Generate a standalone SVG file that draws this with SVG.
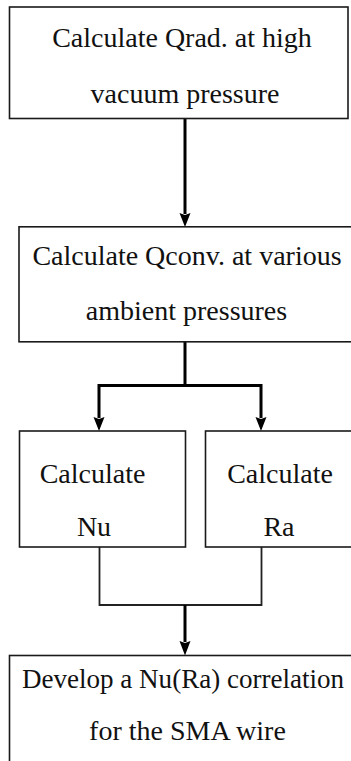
<svg xmlns="http://www.w3.org/2000/svg" width="351" height="761" viewBox="0 0 351 761">
<style>
.box{fill:#fff;stroke:#1a1a1a;stroke-width:1.6}
.t{font-family:'Liberation Serif','Times New Roman','DejaVu Serif',serif;font-size:28px;fill:#111;text-anchor:middle}
.thick{fill:none;stroke:#000;stroke-width:3}
.thin{fill:none;stroke:#222;stroke-width:1.8}
</style>
<rect width="351" height="761" fill="#fff"/>
<g id="connectors">
<path class="thick" d="M185,119 V214"/>
<polygon points="179.5,213 185,215 190.5,213 185,227" fill="#000"/>
<path class="thick" d="M185,342 V385.5 M99,385.5 H261 M99,384 V418 M261,384 V418"/>
<polygon points="93.5,417 99,419 104.5,417 99,431" fill="#000"/>
<polygon points="255.5,417 261,419 266.5,417 261,431" fill="#000"/>
<path class="thin" d="M99.5,547 V605 H261.5 V547"/>
<path class="thick" d="M185,605 V642"/>
<polygon points="179.5,641 185,643 190.5,641 185,655.5" fill="#000"/>
</g>
<g id="n1">
<rect class="box" x="9.5" y="7" width="338.5" height="111.5"/>
<text class="t" x="182" y="47">Calculate Qrad. at high</text>
<text class="t" x="185" y="103">vacuum pressure</text>
</g>
<g id="n2">
<rect class="box" x="19" y="226.8" width="345" height="115"/>
<text class="t" x="187" y="265">Calculate Qconv. at various</text>
<text class="t" x="186.5" y="320">ambient pressures</text>
</g>
<g id="n3">
<rect class="box" x="19.5" y="431" width="166" height="116"/>
<text class="t" x="92.5" y="483">Calculate</text>
<text class="t" x="94" y="536">Nu</text>
</g>
<g id="n4">
<rect class="box" x="205.5" y="431" width="158" height="116"/>
<text class="t" x="280" y="483">Calculate</text>
<text class="t" x="279" y="536">Ra</text>
</g>
<g id="n5">
<rect class="box" x="9.5" y="655.5" width="360" height="120"/>
<text class="t" x="22" y="688" style="text-anchor:start" textLength="322" lengthAdjust="spacingAndGlyphs">Develop a Nu(Ra) correlation</text>
<text class="t" x="187.5" y="740">for the SMA wire</text>
</g>
</svg>
